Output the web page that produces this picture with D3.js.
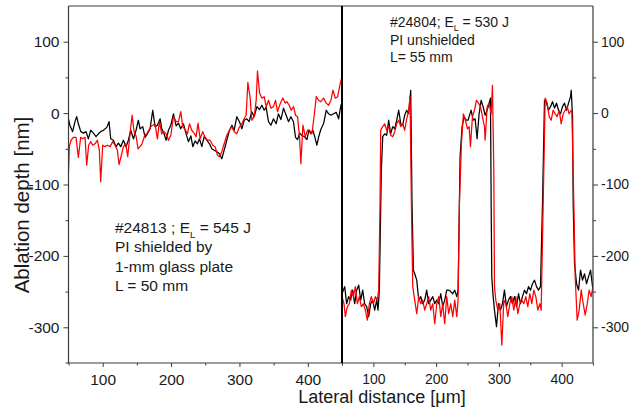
<!DOCTYPE html>
<html>
<head>
<meta charset="utf-8">
<script src="https://cdn.jsdelivr.net/npm/d3@7"></script>
<style>
  html, body { margin: 0; padding: 0; background: #fff; }
  svg { display: block; font-family: "Liberation Sans", Arial, sans-serif; }
</style>
</head>
<body>
<svg id="chart" width="629" height="408"></svg>
<script>
// Ablation depth profiles [x in µm, depth in nm]; two scans per sample.
// Sample #24813: PI shielded by 1-mm glass plate
const shieldedScan1 = [[50,-8],[52,-17],[56,-26],[59.5,-12],[62,-5],[64.4,-15],[68,-26],[72,-28],[75.6,-26],[79,-36],[82.5,-24],[86.4,-28],[90.3,-33],[93.7,-29],[97.1,-26],[101,-24],[106,-20],[109.3,-12],[111.7,-36],[115.6,-38],[119.5,-47],[123,-42],[126.4,-47],[130.3,-38],[134.2,-47],[137.6,-38],[141,-24],[145,-36],[148.8,-24],[152.2,-10],[154.7,-22],[158.6,-19],[162,-34],[165.4,-29],[169.3,-22],[173.2,4],[176.6,-19],[180,-17],[184,-8],[186.4,-22],[189.8,-29],[192.7,-38],[196.2,-24],[199.6,-17],[203.5,-1],[207.4,-18],[210.8,-14],[214.2,-22],[218.1,-15],[222,-29],[225.4,-40],[229,-32],[231.8,-47],[235.2,-39],[238.6,-43],[241.6,-36],[245,-47],[248.4,-33],[252.3,-38],[256.2,-43],[259.6,-50],[263,-52],[267,-54],[270.8,-57],[274.2,-64],[277.6,-52],[281.5,-38],[285.4,-24],[289,-17],[292.3,-24],[296.2,-5],[300,-12],[303.5,-22],[307,-10],[310.8,-8],[314.2,-12],[318,2],[321.6,-5],[325.5,9],[329.4,5],[332.8,11],[336.2,4],[339,8],[342.5,-12],[346,-17],[349.8,-8],[353.7,-15],[357,-1],[360.6,-9],[364.5,7],[368.4,-3],[371.8,-12],[375.2,-5],[379,-12],[382,-34],[385,-37],[388,-28],[391.3,-31],[394.8,-33],[398.7,-37],[401.6,-24],[404.5,-29],[407.4,-24],[410.4,-34],[413.3,-45],[415.7,-34],[419,-23],[423,-15],[427,4],[430.4,-1],[433.8,-3],[437.7,-1],[441.6,1],[445,-8],[448.4,11],[450,14]];
const shieldedScan2 = [[50,-82],[51.2,-47],[53.7,-38],[57.1,-34],[61,-34],[64.4,-62],[67.8,-34],[70.7,-36],[74.2,-34],[76.6,-73],[79.5,-45],[82.5,-40],[85.4,-45],[88.8,-43],[92.2,-38],[95.1,-52],[97.1,-96],[100,-45],[103.4,-47],[106.9,-45],[110.8,-47],[114.7,-40],[118.1,-45],[121.5,-52],[123.9,-72],[127.3,-59],[130.3,-47],[133.7,-43],[136.6,-61],[140,-29],[143,-3],[145.9,-26],[148.8,-32],[151.7,-50],[154.7,-47],[157.6,-43],[161.5,-31],[164.4,-29],[167.4,-24],[170.3,-19],[173.2,-17],[176.6,-15],[180,-36],[183,-12],[186.4,-29],[189.8,-26],[192.7,-29],[196.2,-38],[199.6,-31],[203.5,-5],[207.4,-12],[210.8,-12],[214.2,2],[217.1,-19],[220.5,-23],[224,-29],[226.9,-15],[230.3,-24],[233.7,-28],[236.6,-33],[239.5,-14],[242.5,-36],[246.4,-26],[249.8,-34],[253.2,-38],[257.1,-38],[261,-45],[264.4,-47],[267.9,-59],[270.8,-61],[274.2,-54],[277.6,-43],[281.5,-31],[285.4,-24],[288.9,-19],[292.3,-26],[296.2,-29],[299.6,-20],[303.5,-15],[306.9,-8],[309.8,-3],[312.3,43],[315.7,21],[318.1,-10],[321.6,-5],[324.5,18],[326.4,59],[329.4,28],[332.8,21],[336.2,23],[339.1,9],[342.5,18],[345.9,7],[349.8,9],[352.8,18],[355.7,2],[359.6,13],[363.5,21],[366.9,14],[369.3,16],[372.8,11],[375.7,4],[379.1,9],[382.1,-3],[385,-5],[387.9,-33],[389.9,-71],[392.8,-17],[396.2,-33],[399.6,-24],[402.6,-24],[406,-29],[409.4,-3],[412.3,23],[415.7,18],[419.1,16],[423,21],[426.9,14],[430.4,11],[433.8,18],[436.8,32],[440.2,21],[443.6,23],[447.5,42],[450,51]];

// Sample #24804: PI unshielded
const unshieldedScan1 = [[50,-253],[54.3,-243],[57.4,-267],[60.6,-257],[63.8,-262],[67,-248],[70.2,-267],[73.4,-248],[76.6,-241],[79.8,-262],[83,-248],[86.1,-267],[89.3,-271],[92.5,-285],[95.7,-267],[98.9,-262],[102.1,-276],[105.3,-262],[107.4,-276],[109.5,-248],[112.7,-80],[114.9,-33],[118,-29],[121.2,-31],[124.4,-10],[127.6,-29],[130.8,-19],[134,-22],[137.2,-10],[140.4,4],[143.6,-15],[146.8,-17],[149.9,-3],[153.1,4],[156.3,-1],[159.5,32],[161.6,-127],[163.8,-220],[165.9,-225],[169.1,-234],[172.3,-262],[175.5,-257],[178.6,-267],[181.8,-262],[185,-248],[188.2,-267],[191.4,-262],[194.6,-257],[197.8,-267],[201,-262],[204.2,-267],[207.4,-253],[210.5,-271],[213.7,-262],[216.9,-248],[220.1,-248],[223.3,-250],[226.5,-253],[229.7,-248],[232.9,-257],[235,-248],[238.2,-61],[241.4,-19],[244.6,-5],[247.8,-10],[250.9,-10],[252.6,-5],[255.8,4],[259,-10],[262.1,-8],[265.3,-36],[268.5,-1],[271.7,18],[274.9,9],[278.1,-3],[281.3,4],[284.5,14],[286.6,21],[287.7,-127],[288.7,-229],[290.9,-257],[293,-276],[296.2,-299],[299.4,-267],[302.6,-276],[305.7,-267],[308.9,-248],[312.1,-271],[315.3,-262],[318.5,-257],[321.7,-267],[324.9,-257],[328.1,-271],[331.3,-253],[334.4,-267],[337.6,-257],[340.8,-248],[344,-253],[347.2,-243],[350.4,-248],[353.6,-239],[356.8,-234],[360,-243],[363.2,-248],[366.3,-243],[369.5,-127],[372.7,18],[375.9,14],[379.1,4],[382.3,9],[385.5,16],[388.7,7],[391.9,14],[395,4],[398.2,-1],[401.4,9],[404.6,14],[407.8,4],[411,14],[414.2,23],[415.3,32],[417.4,-5],[418.4,-127],[420.6,-211],[423.8,-239],[427,-248],[430.1,-220],[433.3,-234],[436.5,-225],[439.7,-239],[442.9,-229],[446.1,-220],[450,-248]];
const unshieldedScan2 = [[50,-257],[53.2,-267],[55.3,-285],[58.5,-271],[61.7,-267],[64.9,-248],[68.1,-257],[71.3,-243],[74.5,-267],[77.6,-257],[80.8,-271],[84,-267],[87.2,-276],[90.4,-290],[93.6,-267],[96.8,-257],[100,-267],[103.2,-257],[106.4,-262],[108.5,-248],[110.6,-127],[111.7,-24],[114.9,-19],[118,-15],[121.2,-24],[124.4,-19],[127.6,-31],[130.8,-33],[134,-26],[137.2,-15],[140.4,-10],[143.6,-19],[146.8,-15],[149.9,-24],[153.1,-8],[156.3,4],[158.4,23],[160.6,-127],[162.7,-243],[165.9,-262],[169.1,-281],[172.3,-257],[175.5,-267],[178.6,-262],[181.8,-276],[185,-267],[188.2,-257],[191.4,-276],[194.6,-267],[197.8,-295],[201,-267],[204.2,-257],[207.4,-285],[210.5,-267],[213.7,-295],[216.9,-257],[220.1,-281],[223.3,-267],[226.5,-285],[229.7,-262],[232.9,-285],[235,-262],[237.1,-127],[240.3,-43],[243.5,-1],[246.7,-10],[249.9,-22],[252.6,-19],[254.7,-47],[257.9,-5],[261.1,4],[264.3,18],[267.5,14],[270.7,9],[273.8,-5],[277,-19],[278.1,-38],[281.3,9],[284.5,14],[287.7,-1],[289.8,39],[291.9,-80],[293,-243],[295.1,-262],[298.3,-276],[301.5,-267],[304.7,-325],[307.9,-262],[311.1,-267],[314.2,-285],[317.4,-267],[320.6,-257],[323.8,-276],[327,-257],[330.2,-281],[333.4,-267],[336.6,-262],[339.8,-267],[342.9,-257],[346.1,-271],[349.3,-253],[352.5,-267],[355.7,-248],[358.9,-257],[362.1,-276],[365.3,-267],[367.4,-276],[370.6,-127],[373.8,21],[377,14],[380.2,-5],[383.4,-10],[386.5,4],[389.7,-1],[392.9,-5],[396.1,4],[399.3,-15],[402.5,-1],[405.7,4],[408.9,9],[412,-1],[415.2,4],[416.3,2],[419.5,-127],[421.6,-229],[424.8,-290],[428,-276],[431.2,-248],[434.4,-267],[437.6,-283],[440.8,-267],[443.9,-248],[447.1,-257],[450,-243]];

// Axis ranges and tick values
const xDomain = [50, 450];
const yDomain = [-350, 150];
const xMajorTicks = [100, 200, 300, 400];
const xMinorTicks = [50, 150, 250, 350, 450];
const yMajorTicks = [-300, -200, -100, 0, 100];
const yMinorTicks = [-250, -150, -50, 50];

const svg = d3.select("#chart");
const plotTop = 6, plotBottom = 363, plotLeft = 68.5, plotMid = 342, plotRight = 593;
const axisColor = "#3a3a3a";
const plainNumber = d => String(d); // hyphen-minus, as in the printed figure

const y = d3.scaleLinear().domain(yDomain).range([plotBottom, plotTop]);
const xL = d3.scaleLinear().domain(xDomain).range([plotLeft, plotMid]);
const xR = d3.scaleLinear().domain(xDomain).range([plotMid, plotRight]);

const defs = svg.append("defs");
defs.append("clipPath").attr("id", "clipL").append("rect")
  .attr("x", plotLeft).attr("y", plotTop).attr("width", plotMid - plotLeft).attr("height", plotBottom - plotTop);
defs.append("clipPath").attr("id", "clipR").append("rect")
  .attr("x", plotMid).attr("y", plotTop).attr("width", plotRight - plotMid).attr("height", plotBottom - plotTop);

function styleAxis(g, fontSize) {
  g.select(".domain").remove();
  g.selectAll(".tick line").attr("stroke", axisColor).attr("stroke-width", 1);
  g.selectAll(".tick text").attr("fill", "#1a1a1a")
    .style("font-size", fontSize + "px").style("font-family", "'Liberation Sans', Arial, sans-serif");
}

// Bottom axes (left and right panels)
function bottomAxis(scale, fs) {
  svg.append("g").attr("transform", `translate(0,${plotBottom})`)
    .call(d3.axisBottom(scale).tickValues(xMajorTicks).tickSize(4).tickPadding(7).tickFormat(plainNumber))
    .call(g => styleAxis(g, fs));
  svg.append("g").attr("transform", `translate(0,${plotBottom})`)
    .call(d3.axisBottom(scale).tickValues(xMinorTicks).tickSize(2.5).tickFormat(""))
    .call(g => styleAxis(g, fs));
}
bottomAxis(xL, 15.5);
bottomAxis(xR, 14);

// Left and right depth axes
svg.append("g").attr("transform", `translate(${plotLeft},0)`)
  .call(d3.axisLeft(y).tickValues(yMajorTicks).tickSize(5).tickPadding(4).tickFormat(plainNumber))
  .call(g => styleAxis(g, 15.5));
svg.append("g").attr("transform", `translate(${plotLeft},0)`)
  .call(d3.axisLeft(y).tickValues(yMinorTicks).tickSize(3).tickFormat(""))
  .call(g => styleAxis(g, 15.5));
svg.append("g").attr("transform", `translate(${plotRight},0)`)
  .call(d3.axisRight(y).tickValues(yMajorTicks).tickSize(5).tickPadding(3).tickFormat(plainNumber))
  .call(g => styleAxis(g, 14));
svg.append("g").attr("transform", `translate(${plotRight},0)`)
  .call(d3.axisRight(y).tickValues(yMinorTicks).tickSize(3).tickFormat(""))
  .call(g => styleAxis(g, 14));

// Profile traces
const lineL = d3.line().x(d => xL(d[0])).y(d => y(d[1]));
const lineR = d3.line().x(d => xR(d[0])).y(d => y(d[1]));
const traces = [
  { data: shieldedScan1, line: lineL, clip: "clipL", color: "#000000" },
  { data: shieldedScan2, line: lineL, clip: "clipL", color: "#ff0000" },
  { data: unshieldedScan1, line: lineR, clip: "clipR", color: "#000000" },
  { data: unshieldedScan2, line: lineR, clip: "clipR", color: "#ff0000" }
];
traces.forEach(t => {
  svg.append("path").datum(t.data)
    .attr("clip-path", `url(#${t.clip})`)
    .attr("fill", "none").attr("stroke", t.color)
    .attr("stroke-width", 1.25).attr("stroke-linejoin", "round")
    .attr("d", t.line);
});

// Frame and panel separator
const frame = svg.append("g").attr("fill", "none");
frame.append("line").attr("x1", plotLeft).attr("x2", plotRight).attr("y1", plotTop).attr("y2", plotTop)
  .attr("stroke", axisColor).attr("stroke-width", 1.2);
frame.append("line").attr("x1", plotLeft - 3).attr("x2", plotRight).attr("y1", plotBottom).attr("y2", plotBottom)
  .attr("stroke", axisColor).attr("stroke-width", 1.2);
frame.append("line").attr("x1", plotLeft).attr("x2", plotLeft).attr("y1", plotTop).attr("y2", plotBottom)
  .attr("stroke", axisColor).attr("stroke-width", 1.2);
frame.append("line").attr("x1", plotRight).attr("x2", plotRight).attr("y1", plotTop).attr("y2", plotBottom)
  .attr("stroke", axisColor).attr("stroke-width", 1.2);
frame.append("line").attr("x1", plotMid).attr("x2", plotMid).attr("y1", plotTop).attr("y2", plotBottom)
  .attr("stroke", "#000").attr("stroke-width", 2);

// Axis titles
svg.append("text")
  .attr("transform", `translate(29,205) rotate(-90)`)
  .attr("text-anchor", "middle").attr("fill", "#1a1a1a")
  .style("font-size", "20.5px")
  .text("Ablation depth [nm]");
svg.append("text")
  .attr("x", 382).attr("y", 403)
  .attr("text-anchor", "middle").attr("fill", "#1a1a1a")
  .style("font-size", "18px")
  .text("Lateral distance [\u03bcm]");

// Annotations
function annotate(x, y0, lineGap, fs, lines) {
  const g = svg.append("g").attr("fill", "#1a1a1a").style("font-size", fs + "px");
  lines.forEach((ln, i) => {
    const t = g.append("text").attr("x", x).attr("y", y0 + i * lineGap);
    if (Array.isArray(ln)) {
      t.append("tspan").text(ln[0]);
      t.append("tspan").attr("dy", fs * 0.3).style("font-size", (fs * 0.62) + "px").text(ln[1]);
      t.append("tspan").attr("dy", -fs * 0.3).text(ln[2]);
    } else {
      t.text(ln);
    }
  });
}
annotate(115, 233, 19.3, 15.5, [["#24813 ; E", "L", " = 545 J"], "PI shielded by", "1-mm glass plate", "L = 50 mm"]);
annotate(390, 27, 17.5, 14, [["#24804; E", "L", " = 530 J"], "PI unshielded", "L= 55 mm"]);
</script>
</body>
</html>
